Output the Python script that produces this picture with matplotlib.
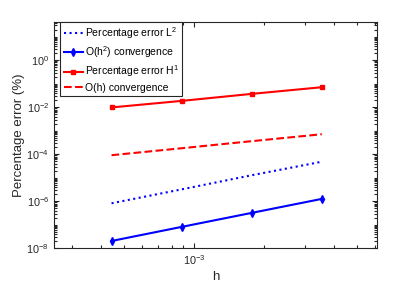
import matplotlib
matplotlib.use('Agg')
import matplotlib.pyplot as plt
from matplotlib.ticker import FixedLocator, NullFormatter

# mesh sizes and errors
h = [4.42e-4, 8.84e-4, 1.77e-3, 3.54e-3]
err_l2 = [8.2e-7, 3.2e-6, 1.28e-5, 4.8e-5]
conv_h2 = [2.04e-8, 8.1e-8, 3.2e-7, 1.26e-6]
err_h1 = [0.0098, 0.0186, 0.037, 0.071]
conv_h = [9.1e-5, 1.8e-4, 3.6e-4, 7.1e-4]

plt.rcParams['font.family'] = ['Liberation Sans', 'DejaVu Sans']
plt.rcParams['mathtext.fontset'] = 'custom'
plt.rcParams['mathtext.rm'] = 'Liberation Sans'
plt.rcParams['mathtext.it'] = 'Liberation Sans:italic'
plt.rcParams['mathtext.bf'] = 'Liberation Sans:bold'

dark = '#262626'

fig = plt.figure(figsize=(4.15, 2.88), dpi=100)
ax = fig.add_axes([0.130, 0.138, 0.778, 0.787])

ax.loglog(h, err_l2, ':', color='blue', lw=1.5, label='Percentage error L$^2$')
ax.loglog(h, conv_h2, '-d', color='blue', lw=1.5, ms=4, label='O(h$^2$) convergence')
ax.loglog(h, err_h1, '-s', color='red', lw=1.5, ms=3.5, label='Percentage error H$^1$')
ax.loglog(h, conv_h, '--', color='red', lw=1.5, label='O(h) convergence')

ax.set_xlim(2.5e-4, 6.1e-3)
ax.set_ylim(1e-8, 10 ** 1.643)

ax.set_yticks([10.0 ** k for k in range(-8, 2, 2)])
ax.set_yticklabels(['$10^{%d}$' % k for k in range(-8, 2, 2)])
ax.set_xticks([1e-3])
ax.set_xticklabels(['$10^{-3}$'])

# minor ticks: every decade gets 2..9 (and odd decades get the 1 too)
ymin = [m * 10.0 ** k for k in range(-8, 2) for m in range(1, 10)
        if not (m == 1 and k % 2 == 0)]
xmin = [m * 10.0 ** k for k in range(-4, -2) for m in range(2, 10)]
ax.yaxis.set_minor_locator(FixedLocator(ymin))
ax.xaxis.set_minor_locator(FixedLocator(xmin))
ax.yaxis.set_minor_formatter(NullFormatter())
ax.xaxis.set_minor_formatter(NullFormatter())

ax.tick_params(which='both', direction='in', top=True, right=True,
               colors=dark, labelsize=7.8, width=0.8)
ax.tick_params(which='major', length=3.5)
ax.tick_params(which='minor', length=2.2)
for s in ax.spines.values():
    s.set_color(dark)
    s.set_linewidth(0.8)

ax.set_xlabel('h', fontsize=9.5, color=dark, labelpad=3)
ax.set_ylabel('Percentage error (%)', fontsize=9.5, color=dark, labelpad=1)

leg = ax.legend(loc='upper left', bbox_to_anchor=(0.02, 1.0), fontsize=7.5,
                handlelength=1.9, handletextpad=0.15, borderpad=0.3,
                labelspacing=0.35, fancybox=False, framealpha=1, borderaxespad=0)
leg.get_frame().set_edgecolor(dark)
leg.get_frame().set_linewidth(0.8)

fig.savefig('out.png', dpi=100)
